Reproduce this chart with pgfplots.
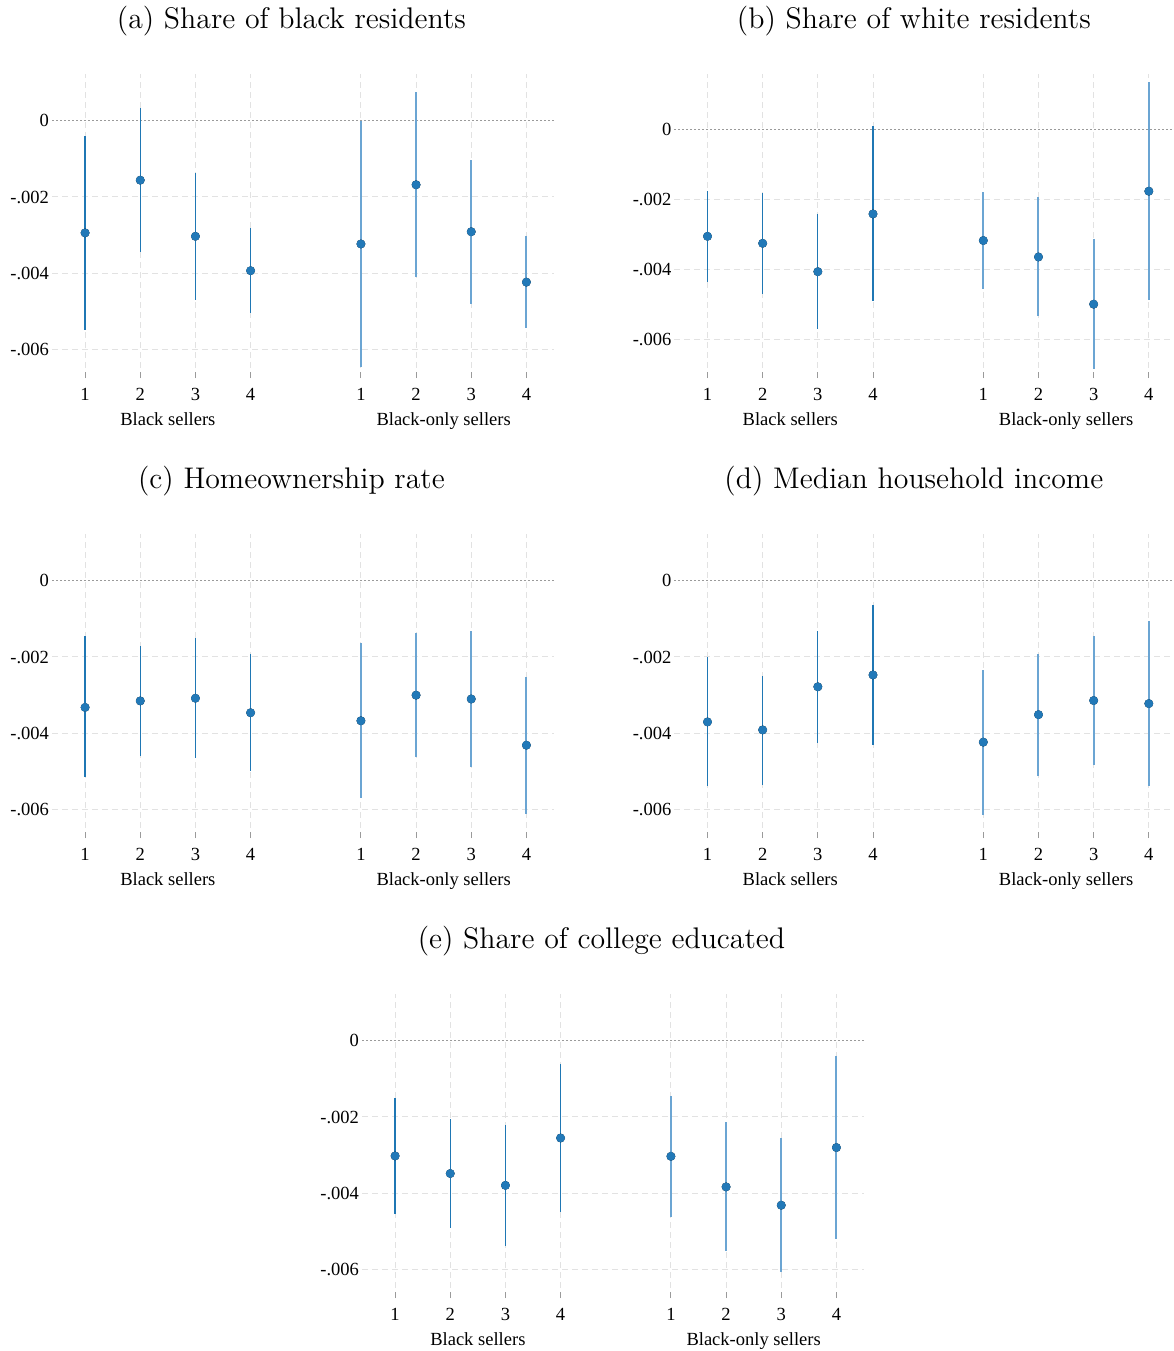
\documentclass[border=0pt]{standalone}
\usepackage{fontspec}
\newfontfamily\tnr{Liberation Serif}
\usepackage{pgfplots}
\pgfplotsset{compat=1.18}
\usepackage{pgfplotstable}
\definecolor{dot}{HTML}{2279B8}
\definecolor{ciA}{HTML}{1F77B4}
\definecolor{ciB}{HTML}{6BA5D3}
\definecolor{gridc}{HTML}{E2E2E2}
\definecolor{zeroc}{HTML}{9A9A9A}

\pgfplotstableread{
x est lo hi
1 -0.00294 -0.00549 -0.00040
2 -0.00156 -0.00344 0.00032
3 -0.00303 -0.00471 -0.00137
4 -0.00393 -0.00505 -0.00281
6 -0.00323 -0.00646 0.00000
7 -0.00168 -0.00410 0.00074
8 -0.00291 -0.00479 -0.00103
9 -0.00423 -0.00544 -0.00302
}\tabA
\pgfplotstableread{
x est lo hi
1 -0.00306 -0.00436 -0.00176
2 -0.00326 -0.00470 -0.00181
3 -0.00407 -0.00570 -0.00242
4 -0.00242 -0.00490 0.00008
6 -0.00318 -0.00458 -0.00179
7 -0.00365 -0.00533 -0.00194
8 -0.00500 -0.00685 -0.00315
9 -0.00177 -0.00487 0.00134
}\tabB
\pgfplotstableread{
x est lo hi
1 -0.00332 -0.00515 -0.00146
2 -0.00315 -0.00458 -0.00170
3 -0.00308 -0.00465 -0.00149
4 -0.00346 -0.00499 -0.00192
6 -0.00367 -0.00570 -0.00164
7 -0.00300 -0.00462 -0.00138
8 -0.00310 -0.00487 -0.00133
9 -0.00431 -0.00610 -0.00252
}\tabC
\pgfplotstableread{
x est lo hi
1 -0.00370 -0.00539 -0.00200
2 -0.00391 -0.00534 -0.00249
3 -0.00278 -0.00424 -0.00131
4 -0.00247 -0.00431 -0.00064
6 -0.00423 -0.00613 -0.00233
7 -0.00351 -0.00511 -0.00193
8 -0.00314 -0.00482 -0.00146
9 -0.00322 -0.00538 -0.00105
}\tabD
\pgfplotstableread{
x est lo hi
1 -0.00302 -0.00453 -0.00151
2 -0.00348 -0.00490 -0.00204
3 -0.00379 -0.00539 -0.00220
4 -0.00255 -0.00449 -0.00061
6 -0.00303 -0.00461 -0.00146
7 -0.00383 -0.00552 -0.00212
8 -0.00431 -0.00605 -0.00255
9 -0.00280 -0.00520 -0.00039
}\tabE

\newcommand{\tickfont}{\tnr\fontsize{9.3}{11}\selectfont}

\pgfplotsset{
  panel/.style={
    scale only axis, width=251bp, height=152bp,
    anchor=south west, clip=false,
    xmin=0.4, xmax=9.5, ymin=-0.00674, ymax=0.00122,
    scaled y ticks=false,
    axis line style={draw=none},
    tick pos=left, tick align=inside,
    major tick length=3bp,
    xtick style={zeroc, line width=0.5bp},
    ytick style={draw=none},
    xtick={1,2,3,4,6,7,8,9},
    xticklabels={1,2,3,4,1,2,3,4},
    ytick={-0.006,-0.004,-0.002},
    yticklabels={-.006,-.004,-.002},
    extra y ticks={0}, extra y tick labels={0},
    extra y tick style={grid=major, major grid style={zeroc, line width=0.6bp, dash pattern=on 1bp off 1bp}},
    grid=major,
    major grid style={gridc, line width=0.5bp, dash pattern=on 3bp off 2bp},
    tick label style={font=\tickfont},
    xticklabel style={yshift=-1.5bp},
    yticklabel style={xshift=2bp},
    title style={at={(0.477,1)}, anchor=center, yshift=20.5bp, font=\fontsize{14.96}{17}\selectfont},
  },
  cia/.style={only marks, mark=none, forget plot, skip coords between index={4}{8},
    error bars/.cd, y dir=both, y explicit, error mark=none,
    error bar style={ciA, line width=0.65bp, solid}},
  cib/.style={only marks, mark=none, forget plot, skip coords between index={0}{4},
    error bars/.cd, y dir=both, y explicit, error mark=none,
    error bar style={ciB, line width=1bp, solid}},
  pts/.style={only marks, mark=*, mark size=2bp, color=dot, mark options={draw=none, fill=dot}},
}

\newcommand{\panelplots}[1]{%
  \addplot[cia] table[x=x, y=est, y error plus expr=\thisrow{hi}-\thisrow{est}, y error minus expr=\thisrow{est}-\thisrow{lo}]{#1};
  \addplot[cib] table[x=x, y=est, y error plus expr=\thisrow{hi}-\thisrow{est}, y error minus expr=\thisrow{est}-\thisrow{lo}]{#1};
  \addplot[pts] table[x=x, y=est]{#1};
  \node[font=\tickfont, anchor=base] at (rel axis cs:0.2308,0) [yshift=-23.5bp] {Black sellers};
  \node[font=\tickfont, anchor=base] at (rel axis cs:0.7802,0) [yshift=-23.5bp] {Black-only sellers};
}

\begin{document}
\begin{tikzpicture}
\path[use as bounding box] (0,0) rectangle (587bp,-675.5bp);

\begin{axis}[panel, at={(26bp,-189bp)}, title={(a) Share of black residents}]
\panelplots{\tabA}
\end{axis}

\begin{axis}[panel, at={(337.2bp,-189bp)}, ymin=-0.00711, ymax=0.00158, title={(b) Share of white residents}]
\panelplots{\tabB}
\end{axis}

\begin{axis}[panel, at={(26bp,-419bp)}, title={(c) Homeownership rate}]
\panelplots{\tabC}
\end{axis}

\begin{axis}[panel, at={(337.2bp,-419bp)}, title={(d) Median household income}]
\panelplots{\tabD}
\end{axis}

\begin{axis}[panel, at={(181bp,-649bp)}, title={(e) Share of college educated}]
\panelplots{\tabE}
\end{axis}

\end{tikzpicture}
\end{document}
